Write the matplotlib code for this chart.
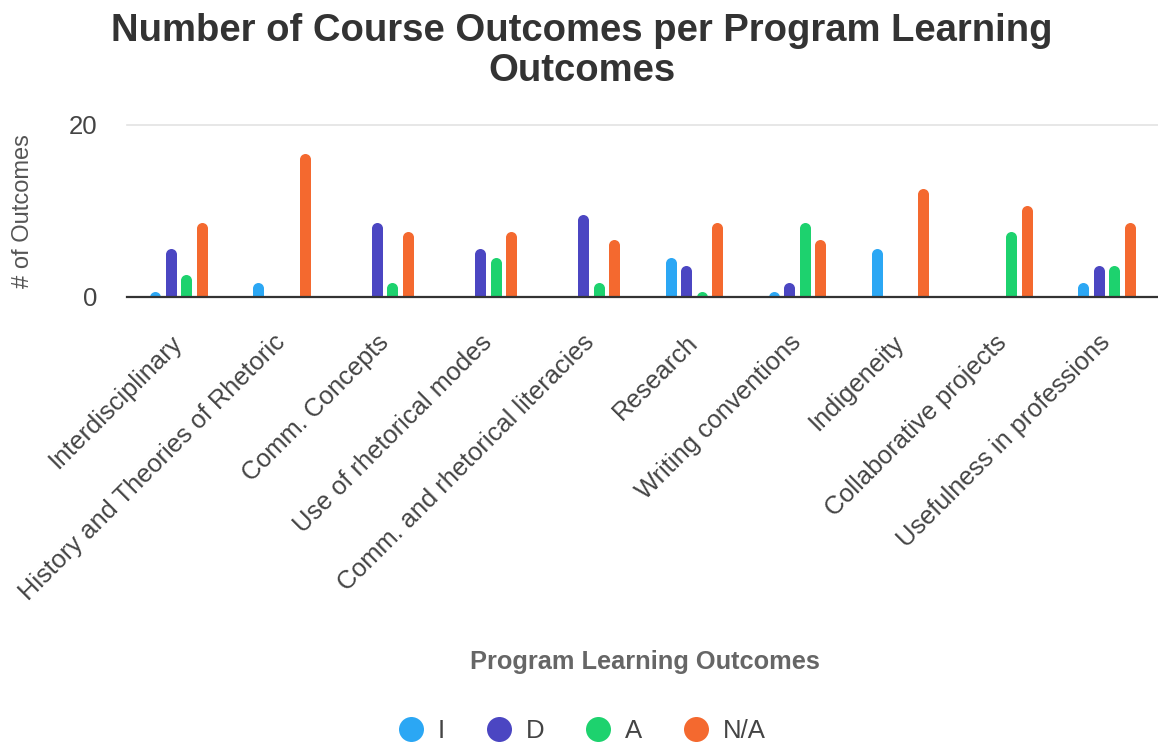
import matplotlib.pyplot as plt
from matplotlib.lines import Line2D
import numpy as np

# Categories and series (nan = no bar drawn).
categories = [
    "Interdisciplinary",
    "History and Theories of Rhetoric",
    "Comm. Concepts",
    "Use of rhetorical modes",
    "Comm. and rhetorical literacies",
    "Research",
    "Writing conventions",
    "Indigeneity",
    "Collaborative projects",
    "Usefulness in professions",
]
nan = np.nan
vals_i = [0, 1, nan, nan, nan, 4, 0, 5, nan, 1]
vals_d = [5, nan, 8, 5, 9, 3, 1, nan, nan, 3]
vals_a = [2, nan, 1, 4, 1, 0, 8, nan, 7, 3]
vals_na = [8, 16, 7, 7, 6, 8, 6, 12, 10, 8]
series_names = ["I", "D", "A", "N/A"]
yticks = [0, 20]

colors = ["#2ba7f4", "#4b46c2", "#1dd26e", "#f4692f"]

plt.rcParams.update({
    "font.family": ["Liberation Sans", "DejaVu Sans"],
})

fig = plt.figure(figsize=(11.58, 7.44), dpi=100)
W, H = 1158, 744
ax = fig.add_axes([127 / W, 1 - 297 / H, 1 - 127 / W, (297 - 125) / H])

x = np.arange(len(categories))
step = 0.15
bar_lw = 11 * 72 / 100  # 11 px wide bars

# Bars: a straight stem plus a round cap on top (zero values show only the cap).
for j, (vals, c) in enumerate(zip([vals_i, vals_d, vals_a, vals_na], colors)):
    v = np.array(vals, dtype=float)
    ok = ~np.isnan(v)
    xs = x[ok] + (j - 1.5) * step
    ax.vlines(xs, 0, v[ok], colors=c, linewidth=bar_lw, zorder=3)
    ax.plot(xs, v[ok], linestyle="none", marker="o", markersize=bar_lw,
            markerfacecolor=c, markeredgewidth=0, zorder=3)

ax.set_xlim(-0.5, len(categories) - 0.5)
ax.set_ylim(0, 20)

# Grid line at 20, dark baseline at 0.
ax.axhline(20, color="#e3e3e3", linewidth=1.2, zorder=1, clip_on=False)
for s in ["top", "right", "left"]:
    ax.spines[s].set_visible(False)
ax.spines["bottom"].set_color("#333333")
ax.spines["bottom"].set_linewidth(1.6)
ax.spines["bottom"].set_zorder(4)

ax.set_yticks(yticks)
ax.tick_params(axis="y", length=0, pad=21.6, labelsize=18.5, labelcolor="#444444")
ax.set_xticks(x)
ax.set_xticklabels(categories, rotation=45, ha="right", va="center",
                   rotation_mode="anchor", fontsize=18.3, color="#444444")
ax.tick_params(axis="x", length=0, pad=30)

ax.set_ylabel("# of Outcomes", fontsize=17, color="#555555")
ax.yaxis.set_label_coords(-93 / (W - 127), 0.5)

# Title, two lines centred over the chart.
fig.text(582 / W, 1 - 41 / H, "Number of Course Outcomes per Program Learning",
         ha="center", va="baseline", fontsize=27.5, fontweight="bold", color="#333333")
fig.text(582 / W, 1 - 81 / H, "Outcomes",
         ha="center", va="baseline", fontsize=27.5, fontweight="bold", color="#333333")

fig.text(645 / W, 1 - 662 / H, "Program Learning Outcomes", ha="center", va="center",
         fontsize=18.3, fontweight="bold", color="#666666")

handles = [Line2D([], [], linestyle="none", marker="o", markersize=18,
                  markerfacecolor=c, markeredgewidth=0) for c in colors]
leg = fig.legend(handles, series_names, loc="center", ncol=4,
                 bbox_to_anchor=(582 / W, 1 - 731 / H), frameon=False,
                 fontsize=18.5, handlelength=1.0, handletextpad=0.55,
                 columnspacing=1.6)
for t in leg.get_texts():
    t.set_color("#444444")

fig.savefig("out.png", dpi=100)
